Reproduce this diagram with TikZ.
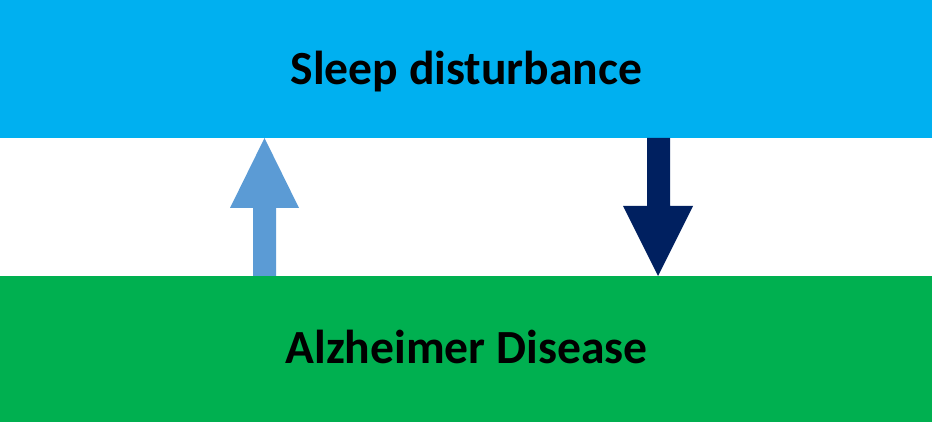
\documentclass[tikz,border=0pt]{standalone}
\usepackage{fontspec}
\setmainfont{Carlito}
\definecolor{topblue}{HTML}{00B0F0}
\definecolor{botgreen}{HTML}{00B050}
\definecolor{uparrow}{HTML}{5B9BD5}
\definecolor{downarrow}{HTML}{002060}
\begin{document}
\begin{tikzpicture}[x=1pt,y=-1pt,
  label/.style={font=\bfseries\fontsize{47.6}{54}\selectfont, text=black, inner sep=0pt, anchor=base}]
\useasboundingbox (0,0) rectangle (932,422);
\fill[topblue] (0,0) rectangle (932,138);
\fill[botgreen] (0,276) rectangle (932,422);
\node[label] (sleep) at (466.5,85) {Sleep disturbance};
\node[label] (ad) at (466.5,363) {Alzheimer Disease};
\fill[uparrow] (253,276) -- (253,208) -- (230,208) -- (264.5,138) -- (299,208) -- (276,208) -- (276,276) -- cycle;
\fill[downarrow] (647,138) -- (647,206) -- (623,206) -- (658,276) -- (693,206) -- (670,206) -- (670,138) -- cycle;
\end{tikzpicture}
\end{document}
